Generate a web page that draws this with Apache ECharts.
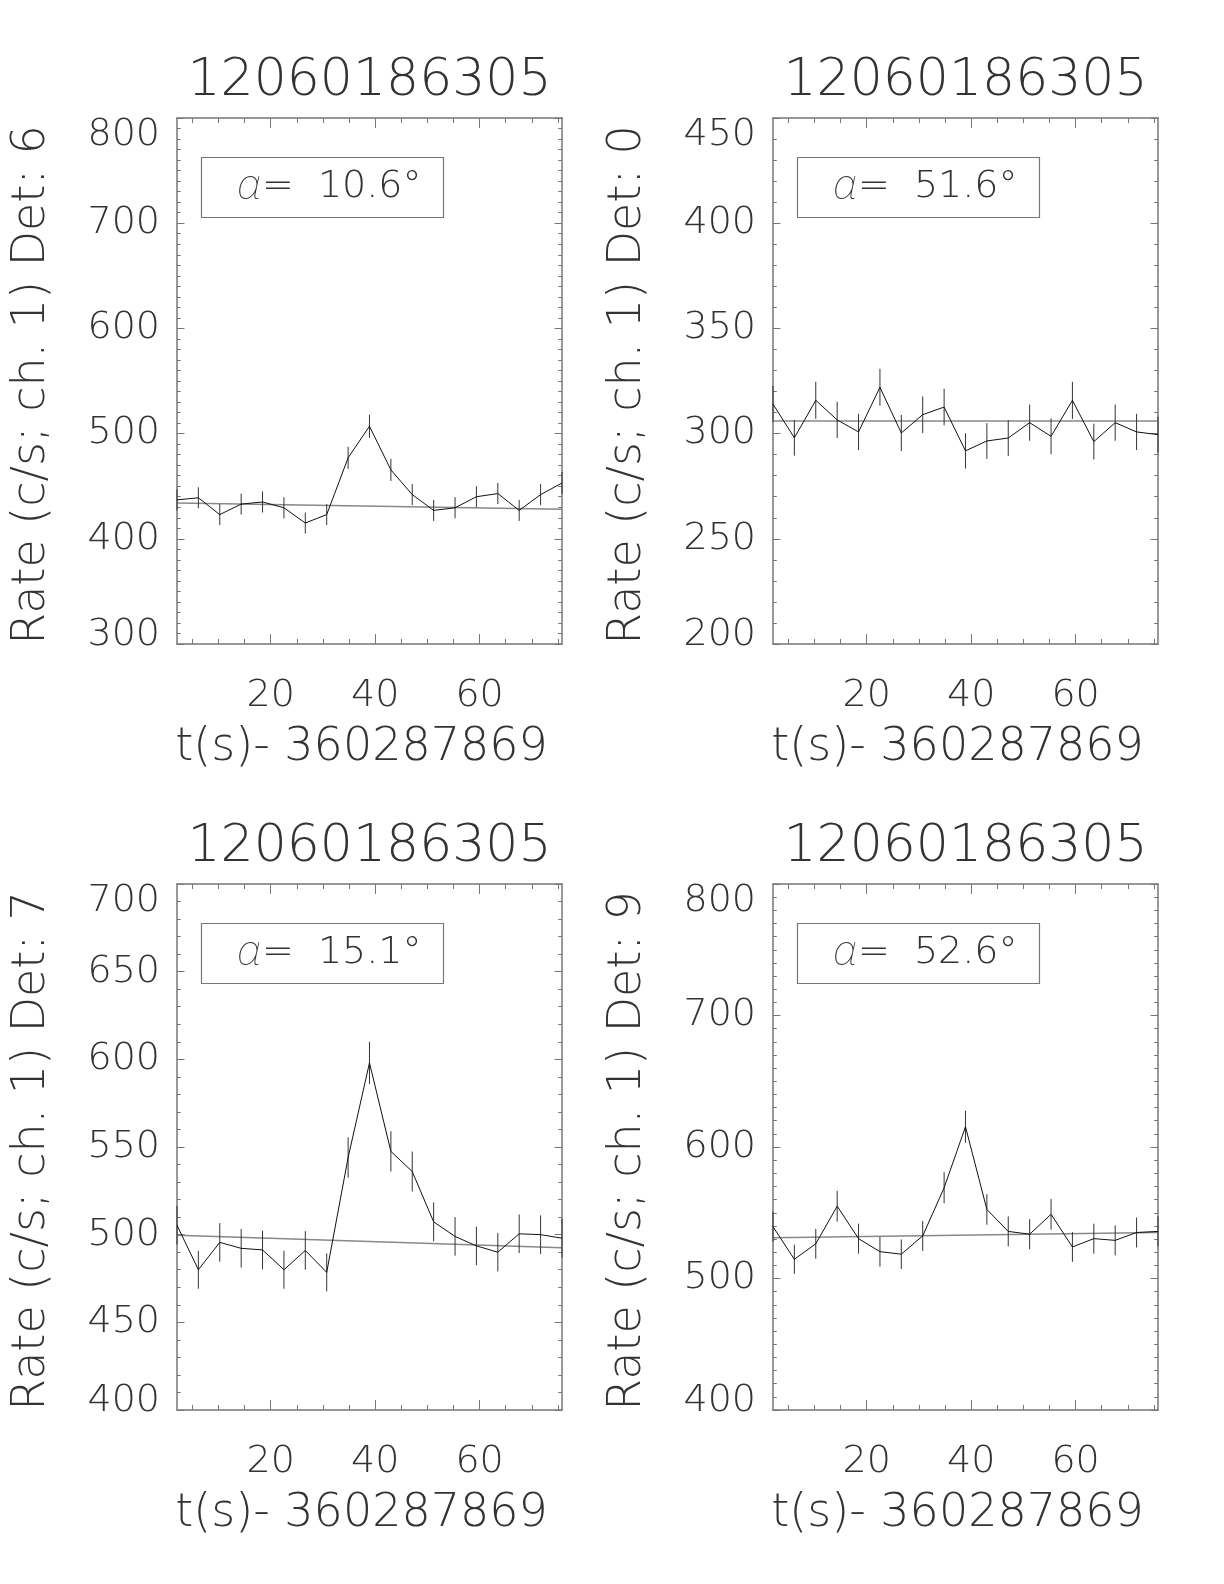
<!DOCTYPE html>
<html><head><meta charset="utf-8">
<script src="https://cdn.jsdelivr.net/npm/echarts@6/dist/echarts.min.js"></script>
<style>html,body{margin:0;padding:0;background:#fff}#c{width:1224px;height:1584px}</style>
</head><body><div id="c"></div>
<script>
// ---- data ----
const burstId = '12060186305';
const xTitle = 't(s)- 360287869';
const times = [2.05, 6.14, 10.24, 14.34, 18.43, 22.53, 26.62, 30.72, 34.82, 38.91,
               43.01, 47.10, 51.20, 55.30, 59.39, 63.49, 67.58, 71.68, 75.78];
const xMajorTicks = [20, 40, 60];
const xMinorTicks = [5, 10, 15, 25, 30, 35, 45, 50, 55, 65, 70, 75];
const detectors = ['6', '0', '7', '9'];
const angles = ['10.6', '51.6', '15.1', '52.6'];

const rateDet6 = [437, 439, 423, 433, 435, 429.5, 415, 423, 477, 507, 465.5, 442, 427, 429.5, 440, 443, 427, 442, 453];
const errDet6  = [10, 10, 10, 10, 10, 10, 10, 10, 10.5, 11, 10.5, 10, 10, 10, 10, 10, 10, 10, 10.5];
const modelDet6 = [434, 428];

const rateDet0 = [314, 298, 315.8, 306.5, 300.8, 322, 300.3, 309, 312.6, 291.8, 296.5, 297.9, 305.2, 298.7, 315.8, 296.2, 305.2, 300.8, 299.5];
const errDet0  = [8.7, 8.5, 8.8, 8.6, 8.6, 8.8, 8.6, 8.7, 8.7, 8.4, 8.5, 8.5, 8.6, 8.5, 8.8, 8.5, 8.6, 8.6, 8.5];
const modelDet0 = [306, 306];

const rateDet7 = [505.4, 480, 495.6, 492.2, 491.3, 480, 491, 478.5, 544, 598, 547.5, 536, 507.3, 499, 493.6, 490, 500.5, 500, 498];
const errDet7  = [11, 10.8, 11, 11, 11, 10.8, 11, 10.8, 11.5, 12, 11.5, 11.4, 11.1, 11, 11, 11, 11, 11, 11];
const modelDet7 = [499.7, 492.6];

const rateDet9 = [539.4, 514.6, 526.4, 555, 530.3, 520.4, 518.5, 532.4, 569, 615.4, 552.5, 535.8, 533.7, 548.8, 524, 530.3, 529, 535, 535.8];
const errDet9  = [11.5, 11.1, 11.3, 11.7, 11.4, 11.3, 11.2, 11.4, 11.8, 12.2, 11.6, 11.4, 11.4, 11.6, 11.3, 11.4, 11.4, 11.4, 11.4];
const modelDet9 = [531, 535];

const yMins  = [300, 200, 400, 400];
const yMaxs  = [800, 450, 700, 800];
const ySteps = [100, 50, 50, 100];

// ---- styling / layout ----
const rates = [rateDet6, rateDet0, rateDet7, rateDet9];
const errs = [errDet6, errDet0, errDet7, errDet9];
const models = [modelDet6, modelDet0, modelDet7, modelDet9];
const minorSplits = [10, 5, 5, 10];
const gridPos = [[177, 118], [773, 118], [177, 884], [773, 884]];
const GW = 385, GH = 526;
const FONT = "'DejaVu Sans', sans-serif";
const FW = 200;
const TXT = '#333';
const FRAME = '#777';

const grids = [], xAxes = [], yAxes = [], series = [], titles = [];
for (let i = 0; i < 4; i++) {
  grids.push({ left: gridPos[i][0], top: gridPos[i][1], width: GW, height: GH, containLabel: false });
  const xmin = times[0], xmax = times[times.length - 1];
  const baseX = { gridIndex: i, type: 'value', min: xmin, max: xmax, splitLine: { show: false } };
  const tickStyle = { color: FRAME, width: 1 };
  xAxes.push(Object.assign({}, baseX, {
    position: 'bottom',
    axisLine: { show: true, onZero: false, lineStyle: { color: FRAME, width: 1.5 } },
    axisTick: { show: true, inside: true, length: 10, customValues: xMajorTicks, lineStyle: tickStyle },
    axisLabel: { show: true, customValues: xMajorTicks, margin: 33, fontSize: 38, fontFamily: FONT, fontWeight: FW, color: TXT },
    name: xTitle, nameLocation: 'middle', nameGap: 81, nameMoveOverlap: false,
    nameTextStyle: { fontSize: 46, fontFamily: FONT, fontWeight: FW, color: TXT, padding: [0, 16, 0, 0] }
  }));
  xAxes.push(Object.assign({}, baseX, {
    position: 'bottom',
    axisLine: { show: false, onZero: false },
    axisTick: { show: true, inside: true, length: 5, customValues: xMinorTicks, lineStyle: tickStyle },
    axisLabel: { show: false, customValues: xMinorTicks }
  }));
  xAxes.push(Object.assign({}, baseX, {
    position: 'top',
    axisLine: { show: true, onZero: false, lineStyle: { color: FRAME, width: 1.5 } },
    axisTick: { show: true, inside: true, length: 10, customValues: xMajorTicks, lineStyle: tickStyle },
    axisLabel: { show: false, customValues: xMajorTicks },
    name: burstId, nameLocation: 'middle', nameGap: 11, nameMoveOverlap: false,
    nameTextStyle: { fontSize: 52, fontFamily: FONT, fontWeight: FW, color: TXT }
  }));
  xAxes.push(Object.assign({}, baseX, {
    position: 'top',
    axisLine: { show: false, onZero: false },
    axisTick: { show: true, inside: true, length: 5, customValues: xMinorTicks, lineStyle: tickStyle },
    axisLabel: { show: false, customValues: xMinorTicks }
  }));
  const baseY = {
    gridIndex: i, type: 'value', min: yMins[i], max: yMaxs[i], interval: ySteps[i],
    splitLine: { show: false },
    axisLine: { show: true, onZero: false, lineStyle: { color: FRAME, width: 1.5 } },
    axisTick: { show: true, inside: true, length: 7.5, lineStyle: tickStyle },
    minorTick: { show: true, splitNumber: minorSplits[i], length: 3.8, lineStyle: tickStyle },
    minorSplitLine: { show: false }
  };
  yAxes.push(Object.assign({}, baseY, {
    position: 'left',
    axisLabel: { show: true, margin: 17, fontSize: 38, lineHeight: 18, padding: [8, 0, 0, 0],
                 fontFamily: FONT, fontWeight: FW, color: TXT,
                 verticalAlignMinLabel: 'bottom', verticalAlignMaxLabel: 'top' },
    name: 'Rate (c/s; ch. 1) Det: ' + detectors[i], nameLocation: 'middle', nameGap: 122, nameRotate: 90,
    nameMoveOverlap: false,
    nameTextStyle: { fontSize: 46, fontFamily: FONT, fontWeight: FW, color: TXT, padding: [0, 8, 0, 0] }
  }));
  yAxes.push(Object.assign({}, baseY, { position: 'right', axisLabel: { show: false } }));

  const xi = i * 4, yi = i * 2;
  series.push({
    type: 'line', xAxisIndex: xi, yAxisIndex: yi, symbol: 'none', silent: true,
    data: [[times[0], models[i][0]], [times[times.length - 1], models[i][1]]],
    lineStyle: { color: '#888', width: 1.5 }, z: 2
  });
  series.push({
    type: 'line', xAxisIndex: xi, yAxisIndex: yi, symbol: 'none', silent: true,
    data: times.map((t, k) => [t, rates[i][k]]),
    lineStyle: { color: '#111', width: 1 }, z: 3
  });
  series.push({
    type: 'custom', xAxisIndex: xi, yAxisIndex: yi, silent: true, z: 3,
    encode: { x: 0, y: 1 },
    data: times.map((t, k) => [t, rates[i][k], errs[i][k]]),
    renderItem: function (params, api) {
      const x = api.value(0), y = api.value(1), e = api.value(2);
      const p1 = api.coord([x, y - e]), p2 = api.coord([x, y + e]);
      return { type: 'line', shape: { x1: p1[0], y1: p1[1], x2: p2[0], y2: p2[1] },
               style: { stroke: '#333', lineWidth: 1 } };
    }
  });
  titles.push({
    text: '{a|α}=  ' + angles[i] + '°',
    left: gridPos[i][0] + 24, top: gridPos[i][1] + 39,
    borderColor: FRAME, borderWidth: 1.2, padding: [9, 22, 10, 36],
    textStyle: { fontSize: 38, fontFamily: FONT, fontWeight: FW, color: TXT,
      rich: { a: { fontSize: 42, fontFamily: "'Noto Sans', 'DejaVu Sans', sans-serif", fontWeight: 100, fontStyle: 'italic', color: TXT } } }
  });
}

const chart = echarts.init(document.getElementById('c'), null, { renderer: 'canvas' });
chart.setOption({
  backgroundColor: '#fff', animation: false,
  title: titles, grid: grids, xAxis: xAxes, yAxis: yAxes, series: series
});
</script></body></html>
